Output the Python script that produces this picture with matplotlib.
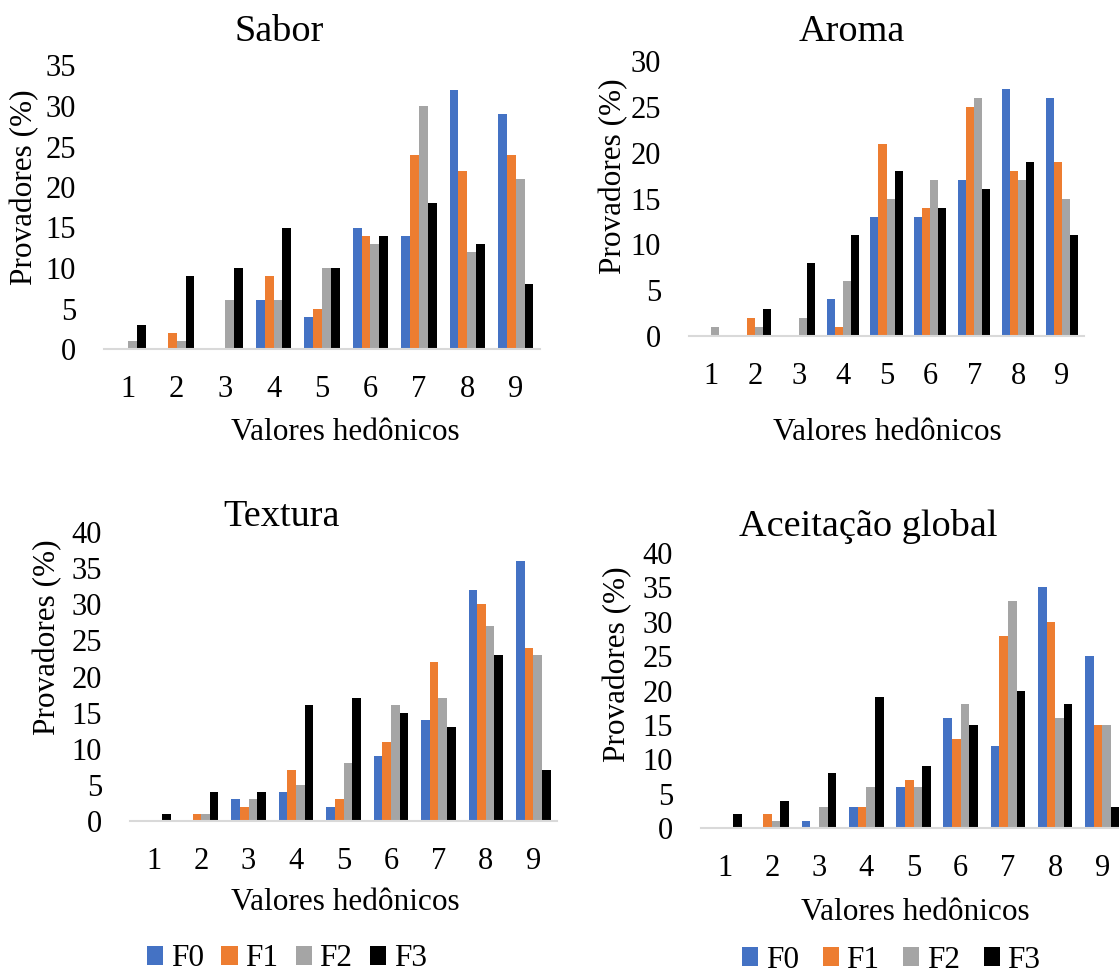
import matplotlib.pyplot as plt
import numpy as np
from matplotlib.patches import Patch

# Hedonic scale (1-9) and share of panelists (%) per formulation
scores = [1, 2, 3, 4, 5, 6, 7, 8, 9]
formulations = ["F0", "F1", "F2", "F3"]
colors = ["#4472C4", "#ED7D31", "#A5A5A5", "#000000"]

sabor_f0 = [0, 0, 0, 6, 4, 15, 14, 32, 29]
sabor_f1 = [0, 2, 0, 9, 5, 14, 24, 22, 24]
sabor_f2 = [1, 1, 6, 6, 10, 13, 30, 12, 21]
sabor_f3 = [3, 9, 10, 15, 10, 14, 18, 13, 8]

aroma_f0 = [0, 0, 0, 4, 13, 13, 17, 27, 26]
aroma_f1 = [0, 2, 0, 1, 21, 14, 25, 18, 19]
aroma_f2 = [1, 1, 2, 6, 15, 17, 26, 17, 15]
aroma_f3 = [0, 3, 8, 11, 18, 14, 16, 19, 11]

textura_f0 = [0, 0, 3, 4, 2, 9, 14, 32, 36]
textura_f1 = [0, 1, 2, 7, 3, 11, 22, 30, 24]
textura_f2 = [0, 1, 3, 5, 8, 16, 17, 27, 23]
textura_f3 = [1, 4, 4, 16, 17, 15, 13, 23, 7]

global_f0 = [0, 0, 1, 3, 6, 16, 12, 35, 25]
global_f1 = [0, 2, 0, 3, 7, 13, 28, 30, 15]
global_f2 = [0, 1, 3, 6, 6, 18, 33, 16, 15]
global_f3 = [2, 4, 8, 19, 9, 15, 20, 18, 3]

plt.rcParams["font.family"] = ["Liberation Serif", "DejaVu Serif"]

W, H = 1119, 974
fig = plt.figure(figsize=(W / 100, H / 100), dpi=100)


def px_axes(left, right, bottom, top):
    # axes box given in pixel coordinates (origin top-left)
    return fig.add_axes([left / W, 1 - bottom / H, (right - left) / W, (bottom - top) / H])


def px_text(x, y, s, **kw):
    fig.text(x / W, 1 - y / H, s, ha="center", va="center", **kw)


panels = [
    dict(title="Sabor", series=[sabor_f0, sabor_f1, sabor_f2, sabor_f3], ymax=35,
         box=(104, 540, 349, 65.5), title_xy=(279, 32), xlabel_xy=(345, 433), ylabel_xy=(25, 187)),
    dict(title="Aroma", series=[aroma_f0, aroma_f1, aroma_f2, aroma_f3], ymax=30,
         box=(689, 1084, 336, 61), title_xy=(852, 32), xlabel_xy=(887, 433), ylabel_xy=(614, 176)),
    dict(title="Textura", series=[textura_f0, textura_f1, textura_f2, textura_f3], ymax=40,
         box=(130, 557, 821, 532), title_xy=(282, 517), xlabel_xy=(345, 903), ylabel_xy=(48, 637)),
    dict(title="Aceitação global", series=[global_f0, global_f1, global_f2, global_f3], ymax=40,
         box=(701, 1126, 828, 553), title_xy=(868, 527), xlabel_xy=(915, 912), ylabel_xy=(618, 664)),
]

x = np.array(scores)
width = 0.1825

for p in panels:
    ax = px_axes(*p["box"])
    for i, (vals, c) in enumerate(zip(p["series"], colors)):
        ax.bar(x + (i - 1.5) * width, vals, width, color=c, linewidth=0)
    ax.set_xlim(0.5, 9.5)
    ax.set_ylim(0, p["ymax"])
    ax.set_xticks(scores)
    ax.set_yticks(np.arange(0, p["ymax"] + 1, 5))
    ax.tick_params(axis="both", length=0, labelsize=22)
    ax.tick_params(axis="x", pad=19)
    ax.tick_params(axis="y", pad=20)
    for side in ["top", "right", "left"]:
        ax.spines[side].set_visible(False)
    ax.spines["bottom"].set_color("#D9D9D9")
    ax.spines["bottom"].set_linewidth(1.5)

    px_text(*p["title_xy"], p["title"], fontsize=27.5)
    px_text(*p["xlabel_xy"], "Valores hedônicos", fontsize=22.5)
    px_text(*p["ylabel_xy"], "Provadores (%)", fontsize=22.5, rotation=90)

handles = [Patch(facecolor=c, linewidth=0) for c in colors]
fig.legend(handles, formulations, loc="center left", bbox_to_anchor=(147 / W, 1 - 959 / H),
           ncol=4, frameon=False, fontsize=22.5, handlelength=0.52, handleheight=0.52,
           handletextpad=0.25, columnspacing=0.55, borderpad=0, borderaxespad=0)
fig.legend(handles, formulations, loc="center left", bbox_to_anchor=(742 / W, 1 - 960 / H),
           ncol=4, frameon=False, fontsize=22.5, handlelength=0.52, handleheight=0.52,
           handletextpad=0.25, columnspacing=0.75, borderpad=0, borderaxespad=0)

fig.savefig("out.png", dpi=100)
